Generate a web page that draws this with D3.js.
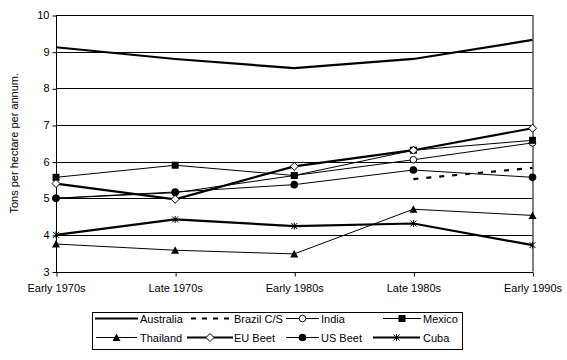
<!DOCTYPE html>
<html><head><meta charset="utf-8">
<script src="https://cdn.jsdelivr.net/npm/d3@7"></script>
<style>body{margin:0;background:#fff}svg{display:block}text{font-family:"Liberation Sans",Arial,sans-serif;font-size:11px;fill:#000}</style>
</head><body><svg id="c" width="567" height="360"></svg>
<script>
const categories = ["Early 1970s","Late 1970s","Early 1980s","Late 1980s","Early 1990s"];
const yTicks = [3,4,5,6,7,8,9,10];
const australia = [9.12, 8.80, 8.55, 8.80, 9.32];
const brazil    = [null, null, null, 5.52, 5.83];
const india     = [5.00, 5.15, 5.62, 6.05, 6.51];
const mexico    = [5.57, 5.90, 5.62, 6.31, 6.58];
const thailand  = [3.75, 3.58, 3.48, 4.70, 4.53];
const euBeet    = [5.40, 4.97, 5.87, 6.31, 6.91];
const usBeet    = [5.00, 5.17, 5.37, 5.77, 5.57];
const cuba      = [4.00, 4.42, 4.24, 4.31, 3.72];
const seriesNames = ["Australia","Brazil C/S","India","Mexico","Thailand","EU Beet","US Beet","Cuba"];
const seriesValues = [australia, brazil, india, mexico, thailand, euBeet, usBeet, cuba];

const styles = [
  {w:2.2, dash:null, m:null},
  {w:2.2, dash:"5,8", m:null},
  {w:1, dash:null, m:"ocircle"},
  {w:1, dash:null, m:"square"},
  {w:1, dash:null, m:"triangle"},
  {w:2.2, dash:null, m:"diamond"},
  {w:1, dash:null, m:"circle"},
  {w:2.2, dash:null, m:"star"}
];

const svg = d3.select("#c");
const L=56, R=532.5, T=15, B=271.5;
const x = d3.scalePoint().domain(categories).range([L,R]);
const y = d3.scaleLinear().domain([3,10]).range([B,T]);

// gridlines
svg.append("g").selectAll("line").data(yTicks).join("line")
  .attr("x1",L).attr("x2",R).attr("y1",d=>Math.round(y(d))+0.5).attr("y2",d=>Math.round(y(d))+0.5)
  .attr("stroke","#000").attr("stroke-width",1);

// y axis
const ya = svg.append("g").attr("transform",`translate(${L+0.5},0)`)
  .call(d3.axisLeft(y).tickValues(yTicks).tickSize(4).tickPadding(3).tickFormat(d3.format("d")));
ya.select(".domain").attr("stroke","#000").attr("d",`M0,${T}V${B+0.5}`);
ya.selectAll("text").style("font-size","11px");
ya.selectAll(".tick line").attr("transform","translate(0,0.5)");
// right border
svg.append("line").attr("x1",R+0.5).attr("x2",R+0.5).attr("y1",T).attr("y2",B).attr("stroke","#000");

// x axis
const xa = svg.append("g").attr("transform",`translate(0,${Math.round(B)+0.5})`)
  .call(d3.axisBottom(x).tickSize(4).tickPadding(8));
xa.select(".domain").attr("stroke","#000").attr("d",`M${L},0H${R+0.5}`);
xa.selectAll(".tick line").attr("transform","translate(0.5,0)");
xa.selectAll("text").style("font-size","11px");

// y label
svg.append("text").attr("transform",`translate(18,${(T+B)/2}) rotate(-90)`)
  .attr("text-anchor","middle").text("Tons per hectare per annum.");

function marker(g, type, cx, cy){
  if(!type) return;
  if(type==="square") g.append("rect").attr("x",cx-3.5).attr("y",cy-3.5).attr("width",7).attr("height",7).attr("fill","#000");
  else if(type==="circle") g.append("circle").attr("cx",cx).attr("cy",cy).attr("r",3.8).attr("fill","#000");
  else if(type==="ocircle") g.append("circle").attr("cx",cx).attr("cy",cy).attr("r",3.3).attr("fill","#fff").attr("stroke","#000").attr("stroke-width",1);
  else if(type==="triangle") g.append("path").attr("d",`M${cx},${cy-4}L${cx+4},${cy+3.5}L${cx-4},${cy+3.5}Z`).attr("fill","#000");
  else if(type==="diamond") g.append("path").attr("d",`M${cx},${cy-4}L${cx+4},${cy}L${cx},${cy+4}L${cx-4},${cy}Z`).attr("fill","#fff").attr("stroke","#000").attr("stroke-width",1);
  else if(type==="star") g.append("path").attr("d",`M${cx-3},${cy-3}L${cx+3},${cy+3}M${cx+3},${cy-3}L${cx-3},${cy+3}M${cx},${cy-3.5}V${cy+3.5}`).attr("stroke","#000").attr("stroke-width",1).attr("fill","none");
}

const line = d3.line().defined(d=>d.v!=null).x(d=>x(d.c)).y(d=>y(d.v));
seriesValues.forEach((vals,i)=>{
  const pts = vals.map((v,j)=>({c:categories[j], v}));
  const st = styles[i];
  const g = svg.append("g");
  g.append("path").attr("d",line(pts)).attr("fill","none").attr("stroke","#000")
    .attr("stroke-width",st.w).attr("stroke-dasharray",st.dash);
  pts.filter(p=>p.v!=null).forEach(p=>marker(g, st.m, x(p.c), y(p.v)));
});

// legend
const lg = svg.append("g");
lg.append("rect").attr("x",92.5).attr("y",312.5).attr("width",370).attr("height",37).attr("fill","#fff").attr("stroke","#000");
const colText = [140, 234, 321, 423];
const sampleStart = [[95,191,286,383],[96,187,286,373]];
const sampleEnd = [[138,231,319,421],[137,233,319,420]];
const rowY = [318.5, 337.5];
seriesNames.forEach((n,i)=>{
  const r = Math.floor(i/4), c = i%4, st = styles[i];
  const x1 = sampleStart[r][c], x2 = sampleEnd[r][c], yy = rowY[r];
  lg.append("line").attr("x1",x1).attr("x2",x2).attr("y1",yy).attr("y2",yy).attr("stroke","#000")
    .attr("stroke-width",st.w).attr("stroke-dasharray",st.dash?"5,6":null);
  marker(lg, st.m, (x1+x2)/2, yy);
  lg.append("text").attr("x",colText[c]).attr("y",yy+4).text(n);
});
</script></body></html>
